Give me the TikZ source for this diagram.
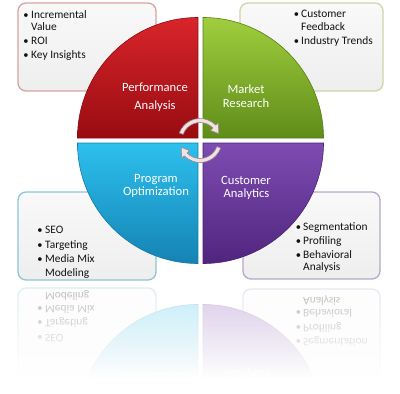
\documentclass[tikz,border=0pt]{standalone}
\usepackage{fontspec}
\setmainfont{Carlito}
\usetikzlibrary{fadings}
\definecolor{redT}{HTML}{D8252A}
\definecolor{redB}{HTML}{980C12}
\definecolor{redE}{HTML}{8A0A10}
\definecolor{greenT}{HTML}{A0CE3E}
\definecolor{greenB}{HTML}{5F8C18}
\definecolor{greenE}{HTML}{557E14}
\definecolor{blueT}{HTML}{2DC0EE}
\definecolor{blueB}{HTML}{1583B3}
\definecolor{blueE}{HTML}{137AA6}
\definecolor{purpleT}{HTML}{7E4CB2}
\definecolor{purpleB}{HTML}{50257E}
\definecolor{purpleE}{HTML}{482172}
\definecolor{bTL}{HTML}{D8A2A5}
\definecolor{bTR}{HTML}{CCD6A8}
\definecolor{bBL}{HTML}{8CC5D6}
\definecolor{bBR}{HTML}{B6A7CC}
\definecolor{boxT}{HTML}{F9F9F9}
\definecolor{boxB}{HTML}{EEEEEE}
\definecolor{arrF}{HTML}{EFE3E3}
\definecolor{arrD}{HTML}{9E8686}
\definecolor{txt}{HTML}{111111}
\tikzfading[name=reflfade, top color=transparent!30, bottom color=transparent!0]
\tikzset{
  infobox/.style={rectangle, rounded corners=8pt, line width=1.3pt,
    top color=boxT, bottom color=boxB, inner sep=0pt},
  quad/.style={line width=0.6pt},
  qlabel/.style={anchor=base, inner sep=0pt, text=white,
    font=\fontsize{12.6}{14}\selectfont},
  item/.style={anchor=base west, inner sep=0pt, text=txt,
    font=\fontsize{11.4}{12}\selectfont},
  bul/.style={anchor=base, inner sep=0pt, text=txt,
    font=\fontsize{10.5}{12}\selectfont},
  circarrow/.style={fill=arrF, draw=arrD, line width=0.6pt, line join=round},
}
\newcommand\lowerpart[1]{%
  \node[infobox, draw=bBL, minimum width=138pt, minimum height=88pt] (#1boxBL) at (87,236) {};
  \node[infobox, draw=bBR, minimum width=137pt, minimum height=87pt] (#1boxBR) at (311.5,235.5) {};
  \shade[quad, top color=blueT, bottom color=blueB, draw=blueE]
    (198,143) -- (77.5,143) arc[start angle=180, end angle=90, radius=120.5] -- cycle;
  \shade[quad, top color=purpleT, bottom color=purpleB, draw=purpleE]
    (203,143) -- (323.5,143) arc[start angle=0, end angle=90, radius=120.5] -- cycle;
  \node[qlabel] (#1po1) at (156,182.3) {Program};
  \node[qlabel] (#1po2) at (156,195.7) {Optimization};
  \node[qlabel] (#1ca1) at (246,184) {Customer};
  \node[qlabel] (#1ca2) at (246.5,197.7) {Analytics};
  \node[bul] (#1bl1b) at (40,233.3) {\textbullet};
  \node[item] (#1bl1) at (45,233.3) {SEO};
  \node[bul] (#1bl2b) at (40,248.3) {\textbullet};
  \node[item] (#1bl2) at (45,248.3) {Targeting};
  \node[bul] (#1bl3b) at (40,262.7) {\textbullet};
  \node[item] (#1bl3) at (45,262.7) {Media Mix};
  \node[item] (#1bl4) at (45,276) {Modeling};
  \node[bul] (#1br1b) at (298.5,230) {\textbullet};
  \node[item] (#1br1) at (303,230) {Segmentation};
  \node[bul] (#1br2b) at (298.5,244) {\textbullet};
  \node[item] (#1br2) at (303,244) {Profiling};
  \node[bul] (#1br3b) at (298.5,258.7) {\textbullet};
  \node[item] (#1br3) at (303,258.7) {Behavioral};
  \node[item] (#1br4) at (303,270.7) {Analysis};
}
\begin{document}
\begin{tikzpicture}[x=1pt, y=-1pt]
\useasboundingbox (0,0) rectangle (400,394);
\fill[white] (0,0) rectangle (400,394);
% top boxes
\node[infobox, draw=bTL, minimum width=138pt, minimum height=88pt] (boxTL) at (87,47) {};
\node[infobox, draw=bTR, minimum width=143pt, minimum height=88pt] (boxTR) at (311.5,47) {};
% top quadrants
\shade[quad, top color=redT, bottom color=redB, draw=redE]
  (198,138) -- (77.5,138) arc[start angle=180, end angle=270, radius=120.5] -- cycle;
\shade[quad, top color=greenT, bottom color=greenB, draw=greenE]
  (203,138) -- (203,17.5) arc[start angle=270, end angle=360, radius=120.5] -- cycle;
\node[qlabel] (pa1) at (155,91) {Performance};
\node[qlabel] (pa2) at (155,109) {Analysis};
\node[qlabel] (mr1) at (246,93) {Market};
\node[qlabel] (mr2) at (246,107) {Research};
% top box texts
\node[bul] (tl1b) at (26,18.3) {\textbullet};
\node[item] (tl1) at (31,18.3) {Incremental};
\node[item] (tl2) at (31,30.3) {Value};
\node[bul] (tl3b) at (26,44.3) {\textbullet};
\node[item] (tl3) at (31,44.3) {ROI};
\node[bul] (tl4b) at (26,58.7) {\textbullet};
\node[item] (tl4) at (31,58.7) {Key Insights};
\node[bul] (tr1b) at (296.5,17.7) {\textbullet};
\node[item] (tr1) at (301,17.7) {Customer};
\node[item] (tr2) at (301,30) {Feedback};
\node[bul] (tr3b) at (296.5,44.3) {\textbullet};
\node[item] (tr3) at (301,44.3) {Industry Trends};
% lower half
\lowerpart{}
% centre circular arrows
\begin{scope}[shift={(200,140.5)}]
  \filldraw[circarrow] (-160:22) arc[start angle=-160, end angle=-44, radius=22]
    -- (-44:25.5) -- (-20:20) -- (-44:14.5) -- (-44:18)
    arc[start angle=-44, end angle=-160, radius=18] -- cycle;
  \filldraw[circarrow] (20:22) arc[start angle=20, end angle=136, radius=22]
    -- (136:25.5) -- (160:20) -- (136:14.5) -- (136:18)
    arc[start angle=136, end angle=20, radius=18] -- cycle;
\end{scope}
% reflection
\begin{scope}[shift={(0,568)}, yscale=-1, transform shape]
  \lowerpart{r}
\end{scope}
\fill[white, path fading=reflfade] (0,283.5) rectangle (400,378);
\fill[white] (0,377.8) rectangle (400,394);
\end{tikzpicture}
\end{document}
